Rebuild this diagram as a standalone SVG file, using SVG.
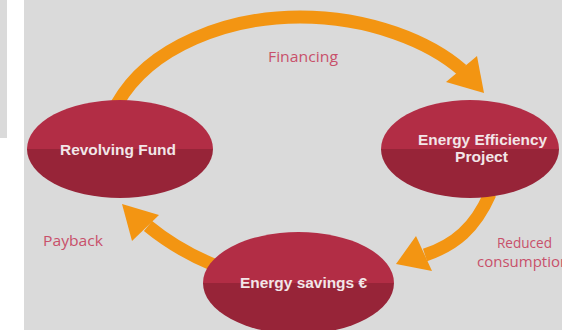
<svg xmlns="http://www.w3.org/2000/svg" width="562" height="330" viewBox="0 0 562 330">
<defs>
<linearGradient id="nodeFill" x1="0" y1="0" x2="0" y2="1">
<stop offset="0" stop-color="#b22d45"/>
<stop offset="0.5" stop-color="#b22d45"/>
<stop offset="0.5" stop-color="#972438"/>
<stop offset="1" stop-color="#972438"/>
</linearGradient>
<style>
.node{fill:url(#nodeFill);}
.ntext{font-family:"Liberation Sans","Open Sans",Arial,sans-serif;font-weight:bold;font-size:14px;fill:#f2e6e8;text-anchor:middle;}
.label{font-family:"Open Sans","Liberation Sans",Arial,sans-serif;font-size:15px;fill:#c8506a;text-anchor:middle;}
.arc{fill:none;stroke:#f39512;stroke-width:13;}
.head{fill:#f39512;}
</style>
</defs>
<rect x="0" y="0" width="562" height="330" fill="#ffffff"/>
<rect x="0" y="0" width="7" height="138" fill="#dadada"/>
<rect x="24" y="0" width="538" height="330" fill="#dadada"/>
<g id="connectors">
<path class="arc" d="M117,104 C150,45 230,17 300,17 C370,17 430,42 462,70"/>
<polygon class="head" points="484,93 446,82 477,56"/>
<path class="arc" d="M490,194 C475,228 455,245 425,255"/>
<polygon class="head" points="396,264 416,236 432,271"/>
<path class="arc" d="M214,265 C192,256 170,244 148,226"/>
<polygon class="head" points="122,204 159,215 132,241"/>
</g>
<g id="revolving-fund">
<ellipse class="node" cx="120" cy="149" rx="93" ry="49"/>
<text class="ntext" x="118" y="155" textLength="116" lengthAdjust="spacingAndGlyphs">Revolving Fund</text>
</g>
<g id="energy-efficiency-project">
<ellipse class="node" cx="470" cy="149" rx="89" ry="49"/>
<text class="ntext" x="482.5" y="145" textLength="129" lengthAdjust="spacingAndGlyphs">Energy Efficiency</text>
<text class="ntext" x="481.5" y="162" textLength="53" lengthAdjust="spacingAndGlyphs">Project</text>
</g>
<g id="energy-savings">
<ellipse class="node" cx="298.5" cy="283" rx="95.5" ry="51"/>
<text class="ntext" x="303.5" y="288" textLength="127" lengthAdjust="spacingAndGlyphs">Energy savings €</text>
</g>
<g id="labels">
<text class="label" x="303" y="62" textLength="70" lengthAdjust="spacingAndGlyphs">Financing</text>
<text class="label" x="73" y="246" textLength="60" lengthAdjust="spacingAndGlyphs">Payback</text>
<text class="label" x="524.5" y="248" textLength="55" lengthAdjust="spacingAndGlyphs">Reduced</text>
<text class="label" x="477" y="267" style="text-anchor:start">consumption</text>
</g>
</svg>
